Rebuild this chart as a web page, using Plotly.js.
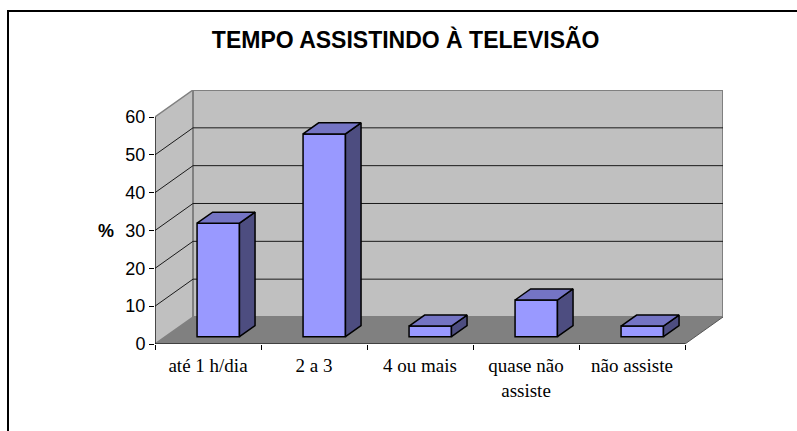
<!DOCTYPE html>
<html>
<head>
<meta charset="utf-8">
<script src="https://cdn.plot.ly/plotly-3.0.1.min.js"></script>
<style>
  body { margin: 0; background: #fff; }
  #wrap { position: relative; width: 797px; height: 431px; overflow: hidden; }
  #chart { width: 797px; height: 431px; }
  #frame { position: absolute; left: 7px; top: 10px; width: 800px; height: 430px;
           border-top: 2px solid #000; border-left: 2px solid #000; pointer-events: none; }
</style>
</head>
<body>
<div id="wrap"><div id="chart"></div><div id="frame"></div></div>
<script>
// ---- data ----
const categories = ['até 1 h/dia', '2 a 3', '4 ou mais', 'quase não<br>assiste', 'não assiste'];
const values = [30, 53.6, 2.8, 9.7, 2.8];
const yTickVals = [0, 10, 20, 30, 40, 50, 60];
const yTickText = ['0', '10', '20', '30', '40', '50', '60'];
const titleText = 'TEMPO ASSISTINDO À TELEVISÃO';
const yLabel = '%';

// ---- 3D geometry (in axis units) ----
const N = categories.length;
const YMAX = 60;
const DX = 0.3585;   // depth offset along x (category units)
const DY = 7.14;     // depth offset along y (value units)
const F1 = 0.27, F2 = 0.68;  // bar front/back depth fractions
const BW = 0.4;               // bar width

const traces = [];

// front faces as a bar trace
traces.push({
  type: 'bar',
  x: categories.map((c, i) => i + 0.5 + F1 * DX),
  y: values,
  base: values.map(() => F1 * DY),
  width: values.map(() => BW),
  marker: { color: '#9999FF', line: { color: '#000', width: 1.5 } },
  hoverinfo: 'skip', showlegend: false
});

// side and top faces
values.forEach((v, i) => {
  const xl = i + 0.5 - BW / 2 + F1 * DX, xr = xl + BW;
  const b1 = F1 * DY, b2 = F2 * DY, ddx = (F2 - F1) * DX;
  traces.push({
    type: 'scatter', mode: 'lines', fill: 'toself', fillcolor: '#4D4D80',
    x: [xr, xr, xr + ddx, xr + ddx, xr],
    y: [b1, v + b1, v + b2, b2, b1],
    line: { color: '#000', width: 1.5 }, hoverinfo: 'skip', showlegend: false
  });
  traces.push({
    type: 'scatter', mode: 'lines', fill: 'toself', fillcolor: '#7474C4',
    x: [xl, xr, xr + ddx, xl + ddx, xl],
    y: [v + b1, v + b1, v + b2, v + b2, v + b1],
    line: { color: '#000', width: 1.5 }, hoverinfo: 'skip', showlegend: false
  });
});

// walls, floor, gridlines as shapes below traces
const shapes = [];
const P = (pts) => 'M' + pts.map(p => p[0] + ',' + p[1]).join(' L') + ' Z';
shapes.push({ type: 'path', xref: 'x', yref: 'y', layer: 'below',
  path: P([[0, 0], [N, 0], [N + DX, DY], [DX, DY]]),
  fillcolor: '#808080', line: { width: 0 } });
shapes.push({ type: 'path', xref: 'x', yref: 'y', layer: 'below',
  path: P([[0, 0], [0, YMAX], [DX, YMAX + DY], [DX, DY]]),
  fillcolor: '#C0C0C0', line: { color: '#808080', width: 1.5 } });
shapes.push({ type: 'path', xref: 'x', yref: 'y', layer: 'below',
  path: P([[DX, DY], [DX, YMAX + DY], [N + DX, YMAX + DY], [N + DX, DY]]),
  fillcolor: '#C0C0C0', line: { color: '#808080', width: 2 } });
shapes.push({ type: 'line', xref: 'x', yref: 'y', layer: 'below',
  x0: N, y0: 0, x1: N + DX, y1: DY, line: { color: '#555', width: 1 } });
yTickVals.filter(t => t > 0 && t < YMAX).forEach(t => {
  shapes.push({ type: 'line', xref: 'x', yref: 'y', layer: 'below',
    x0: DX, y0: t + DY, x1: N + DX, y1: t + DY, line: { color: '#1a1a1a', width: 1 } });
  shapes.push({ type: 'line', xref: 'x', yref: 'y', layer: 'below',
    x0: 0, y0: t, x1: DX, y1: t + DY, line: { color: '#1a1a1a', width: 1 } });
});
shapes.push({ type: 'line', xref: 'x', yref: 'y', layer: 'above',
  x0: 0, y0: 0, x1: 0, y1: YMAX, line: { color: '#000', width: 1 } });
shapes.push({ type: 'line', xref: 'x', yref: 'y', layer: 'above',
  x0: 0, y0: 0, x1: N, y1: 0, line: { color: '#000', width: 1 } });

const layout = {
  width: 797, height: 431,
  margin: { l: 155, r: 74, t: 90, b: 87 },
  paper_bgcolor: '#fff', plot_bgcolor: 'rgba(0,0,0,0)',
  showlegend: false,
  title: {
    text: titleText, xref: 'container', yref: 'container',
    x: 0.509, xanchor: 'center', y: 0.907, yanchor: 'middle',
    font: { family: 'Liberation Sans, Arial, sans-serif', size: 23, color: '#000', weight: 700 }
  },
  xaxis: {
    range: [0, N + DX], showgrid: false, zeroline: false, showline: false,
    tickmode: 'array', tickvals: categories.map((c, i) => i + 0.5), ticktext: categories,
    ticks: '', ticklabelstandoff: 8,
    tickfont: { family: 'Liberation Serif, Times New Roman, serif', size: 19, color: '#000' },
    minor: { tick0: 0, dtick: 1, ticks: 'outside', ticklen: 5, tickcolor: '#000', tickwidth: 1, showgrid: false },
    fixedrange: true
  },
  yaxis: {
    range: [0, YMAX + DY], showgrid: false, zeroline: false, showline: false,
    tickmode: 'array', tickvals: yTickVals, ticktext: yTickText,
    ticks: 'outside', ticklen: 5, tickcolor: '#000', tickwidth: 1,
    tickfont: { family: 'Liberation Sans, Arial, sans-serif', size: 18, color: '#000' },
    fixedrange: true
  },
  annotations: [{
    text: yLabel, xref: 'paper', yref: 'y', x: -0.0854, y: 30, xanchor: 'center', yanchor: 'middle',
    showarrow: false, font: { family: 'Liberation Sans, Arial, sans-serif', size: 18, color: '#000', weight: 700 }
  }],
  shapes: shapes
};

Plotly.newPlot('chart', traces, layout, { staticPlot: true, displayModeBar: false });
</script>
</body>
</html>
